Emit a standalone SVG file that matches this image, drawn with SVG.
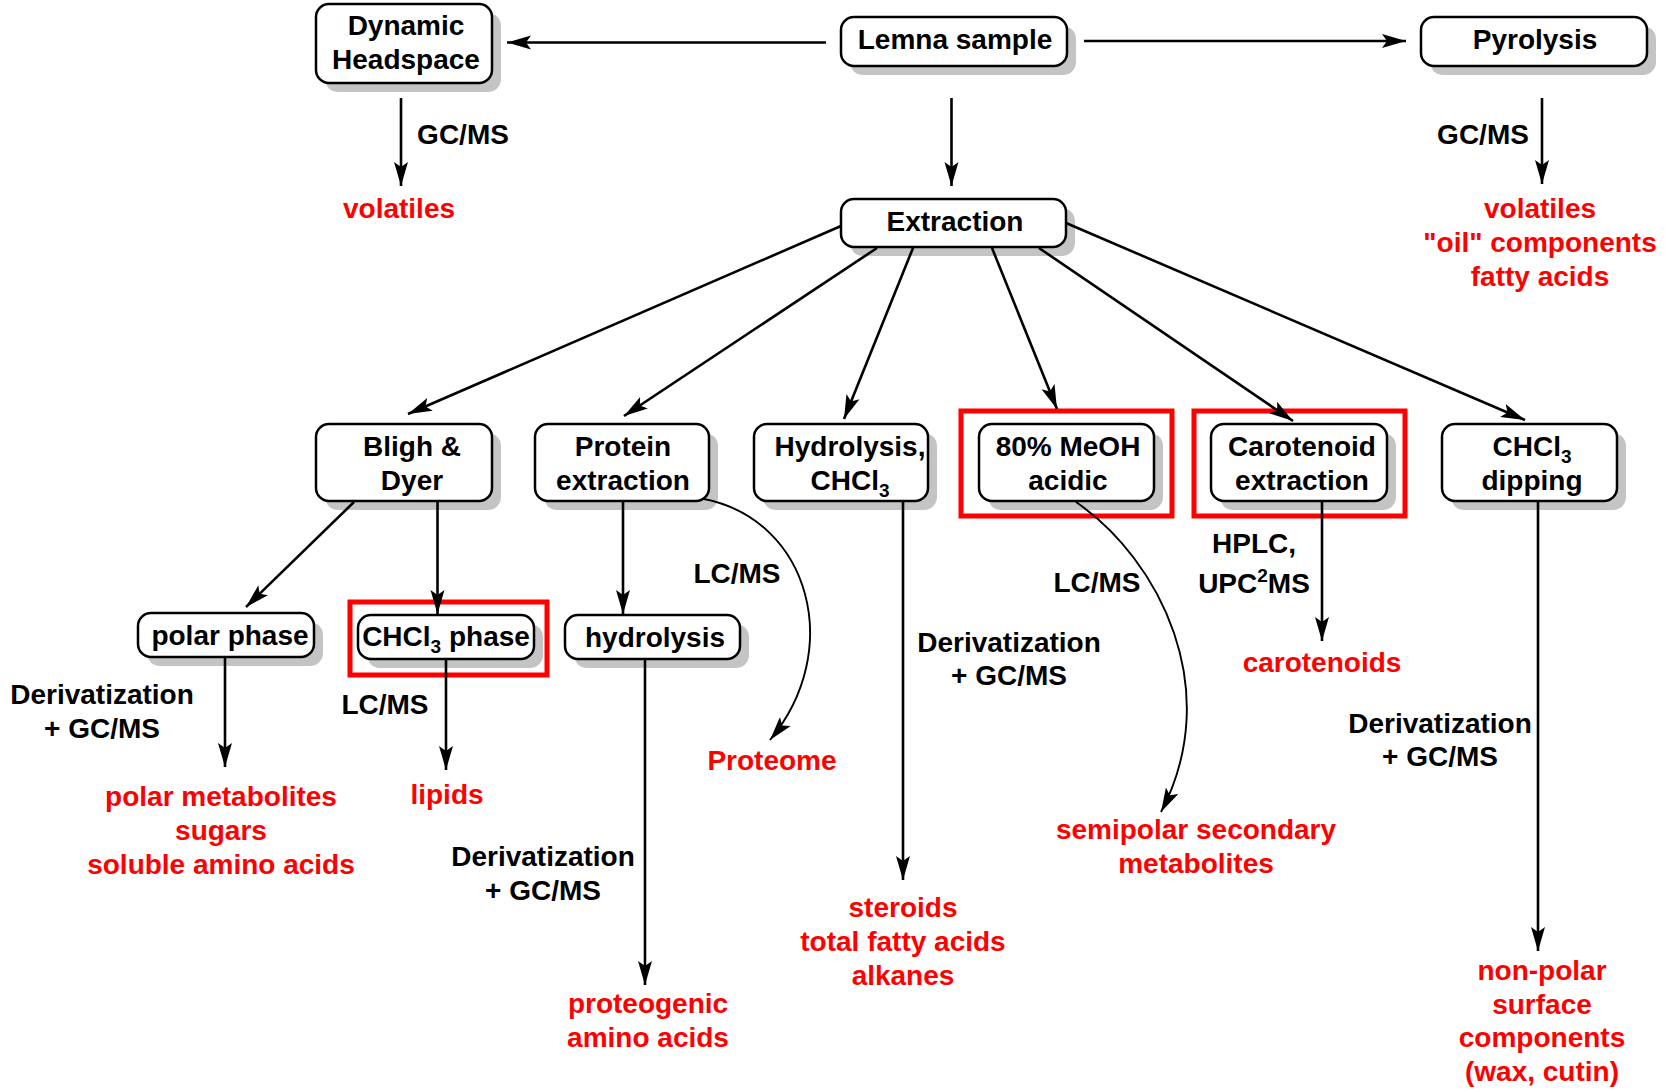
<svg xmlns="http://www.w3.org/2000/svg" width="1665" height="1091" viewBox="0 0 1665 1091">
<style>
text{font-family:"Liberation Sans",Arial,sans-serif;font-weight:bold;font-size:28px;text-anchor:middle;fill:#000}
.r{fill:#ff0000}
.box{fill:#fff;stroke:#000;stroke-width:2.5}
.sh{fill:#c4c4c4;stroke:none}
.hl{fill:none;stroke:#ff0000;stroke-width:5}
.c{fill:none;stroke:#000;stroke-width:2.6}
.cv{fill:none;stroke:#000;stroke-width:1.9}
.sub{font-size:19px}
</style>
<defs>
<marker id="a" markerUnits="userSpaceOnUse" markerWidth="26" markerHeight="16" viewBox="0 0 26 16" refX="24" refY="8" orient="auto">
<path d="M0,1 L24,8 L0,15 L5,8 z" fill="#000"/>
</marker>
</defs>
<rect width="1665" height="1091" fill="#fff"/>

<g id="n-dynamic">
<rect class="sh" x="325" y="13" width="176" height="79" rx="13"/>
<rect class="box" x="316" y="4" width="176" height="79" rx="13"/>
<text x="406" y="35">Dynamic</text>
<text x="406" y="69">Headspace</text>
</g>
<g id="n-lemna">
<rect class="sh" x="850" y="26" width="226" height="49" rx="13"/>
<rect class="box" x="841" y="17" width="226" height="49" rx="13"/>
<text x="955" y="49">Lemna sample</text>
</g>
<g id="n-pyrolysis">
<rect class="sh" x="1430" y="26" width="226" height="49" rx="13"/>
<rect class="box" x="1421" y="17" width="226" height="49" rx="13"/>
<text x="1535" y="49">Pyrolysis</text>
</g>
<g id="n-extraction">
<rect class="sh" x="850" y="208" width="225" height="48" rx="13"/>
<rect class="box" x="841" y="199" width="225" height="48" rx="13"/>
<text x="955" y="231">Extraction</text>
</g>

<g id="n-bligh">
<rect class="sh" x="325" y="433" width="176" height="77" rx="13"/>
<rect class="box" x="316" y="424" width="176" height="77" rx="13"/>
<text x="412" y="456">Bligh &amp;</text>
<text x="412" y="490">Dyer</text>
</g>
<g id="n-protein">
<rect class="sh" x="544" y="433" width="174" height="77" rx="13"/>
<rect class="box" x="535" y="424" width="174" height="77" rx="13"/>
<text x="623" y="456">Protein</text>
<text x="623" y="490">extraction</text>
</g>
<g id="n-hydrolysis-chcl3">
<rect class="sh" x="763" y="433" width="174" height="77" rx="13"/>
<rect class="box" x="754" y="424" width="174" height="77" rx="13"/>
<text x="850" y="456">Hydrolysis,</text>
<text x="850" y="490">CHCl<tspan class="sub" dy="7">3</tspan></text>
</g>
<g id="n-meoh">
<rect class="hl" x="961" y="411" width="211" height="105"/>
<rect class="sh" x="988" y="433" width="175" height="77" rx="13"/>
<rect class="box" x="979" y="424" width="175" height="77" rx="13"/>
<text x="1068" y="456">80% MeOH</text>
<text x="1068" y="490">acidic</text>
</g>
<g id="n-carotenoid">
<rect class="hl" x="1194" y="411" width="211" height="105"/>
<rect class="sh" x="1220" y="433" width="176" height="77" rx="13"/>
<rect class="box" x="1211" y="424" width="176" height="77" rx="13"/>
<text x="1302" y="456">Carotenoid</text>
<text x="1302" y="490">extraction</text>
</g>
<g id="n-dipping">
<rect class="sh" x="1451" y="433" width="175" height="77" rx="13"/>
<rect class="box" x="1442" y="424" width="175" height="77" rx="13"/>
<text x="1532" y="456">CHCl<tspan class="sub" dy="7">3</tspan></text>
<text x="1532" y="490">dipping</text>
</g>

<g id="n-polar">
<rect class="sh" x="147" y="622" width="176" height="44" rx="13"/>
<rect class="box" x="138" y="613" width="176" height="44" rx="13"/>
<text x="230" y="645">polar phase</text>
</g>
<g id="n-chcl3phase">
<rect class="hl" x="350" y="602" width="197" height="73"/>
<rect class="sh" x="367" y="624" width="176" height="44" rx="13"/>
<rect class="box" x="358" y="615" width="176" height="44" rx="13"/>
<text x="446" y="646">CHCl<tspan class="sub" dy="7">3</tspan><tspan dy="-7"> phase</tspan></text>
</g>
<g id="n-hydrolysis">
<rect class="sh" x="574" y="624" width="175" height="44" rx="13"/>
<rect class="box" x="565" y="615" width="175" height="44" rx="13"/>
<text x="655" y="647">hydrolysis</text>
</g>

<g id="connectors">
<line class="c" x1="826" y1="42.5" x2="507" y2="42.5" marker-end="url(#a)"/>
<line class="c" x1="1084" y1="41" x2="1406" y2="41" marker-end="url(#a)"/>
<line class="c" x1="951.5" y1="98" x2="951.5" y2="186" marker-end="url(#a)"/>
<line class="c" x1="401" y1="98" x2="401" y2="186" marker-end="url(#a)"/>
<line class="c" x1="1542" y1="98" x2="1542" y2="184" marker-end="url(#a)"/>
<line class="c" x1="841" y1="226" x2="408" y2="414" marker-end="url(#a)"/>
<line class="c" x1="877" y1="248" x2="624" y2="416" marker-end="url(#a)"/>
<line class="c" x1="913" y1="248" x2="844" y2="419" marker-end="url(#a)"/>
<line class="c" x1="992" y1="248" x2="1057" y2="409" marker-end="url(#a)"/>
<line class="c" x1="1039" y1="248" x2="1293" y2="421" marker-end="url(#a)"/>
<line class="c" x1="1066" y1="223" x2="1525" y2="420" marker-end="url(#a)"/>
<line class="c" x1="354" y1="502" x2="246" y2="607" marker-end="url(#a)"/>
<line class="c" x1="437.5" y1="502" x2="437.5" y2="614" marker-end="url(#a)"/>
<line class="c" x1="623" y1="502" x2="623" y2="614" marker-end="url(#a)"/>
<line class="c" x1="225" y1="658" x2="225" y2="767" marker-end="url(#a)"/>
<line class="c" x1="446" y1="660" x2="446" y2="770" marker-end="url(#a)"/>
<line class="c" x1="645" y1="660" x2="645" y2="985" marker-end="url(#a)"/>
<line class="c" x1="903" y1="502" x2="903" y2="880" marker-end="url(#a)"/>
<line class="c" x1="1538" y1="502" x2="1538" y2="951" marker-end="url(#a)"/>
<line class="c" x1="1322" y1="502" x2="1322" y2="641" marker-end="url(#a)"/>
<path class="cv" d="M704,499 C810,520 845,650 770,740" marker-end="url(#a)"/>
<path class="cv" d="M1076,502 C1160,560 1225,690 1161,812" marker-end="url(#a)"/>
</g>

<g id="labels">
<text x="463" y="144">GC/MS</text>
<text x="1483" y="144">GC/MS</text>
<text x="737" y="583">LC/MS</text>
<text x="102" y="704">Derivatization</text>
<text x="102" y="738">+ GC/MS</text>
<text x="385" y="714">LC/MS</text>
<text x="543" y="866">Derivatization</text>
<text x="543" y="900">+ GC/MS</text>
<text x="1009" y="652">Derivatization</text>
<text x="1009" y="685">+ GC/MS</text>
<text x="1097" y="592">LC/MS</text>
<text x="1254" y="553">HPLC,</text>
<text x="1254" y="593">UPC<tspan class="sub" dy="-11">2</tspan><tspan dy="11">MS</tspan></text>
<text x="1440" y="733">Derivatization</text>
<text x="1440" y="766">+ GC/MS</text>
</g>

<g id="results">
<text class="r" x="399" y="218">volatiles</text>
<text class="r" x="1540" y="218">volatiles</text>
<text class="r" x="1540" y="252">"oil" components</text>
<text class="r" x="1540" y="286">fatty acids</text>
<text class="r" x="221" y="806">polar metabolites</text>
<text class="r" x="221" y="840">sugars</text>
<text class="r" x="221" y="874">soluble amino acids</text>
<text class="r" x="447" y="804">lipids</text>
<text class="r" x="648" y="1013">proteogenic</text>
<text class="r" x="648" y="1047">amino acids</text>
<text class="r" x="772" y="770">Proteome</text>
<text class="r" x="903" y="917">steroids</text>
<text class="r" x="903" y="951">total fatty acids</text>
<text class="r" x="903" y="985">alkanes</text>
<text class="r" x="1196" y="839">semipolar secondary</text>
<text class="r" x="1196" y="873">metabolites</text>
<text class="r" x="1322" y="672">carotenoids</text>
<text class="r" x="1542" y="980">non-polar</text>
<text class="r" x="1542" y="1014">surface</text>
<text class="r" x="1542" y="1047">components</text>
<text class="r" x="1542" y="1081">(wax, cutin)</text>
</g>
</svg>
